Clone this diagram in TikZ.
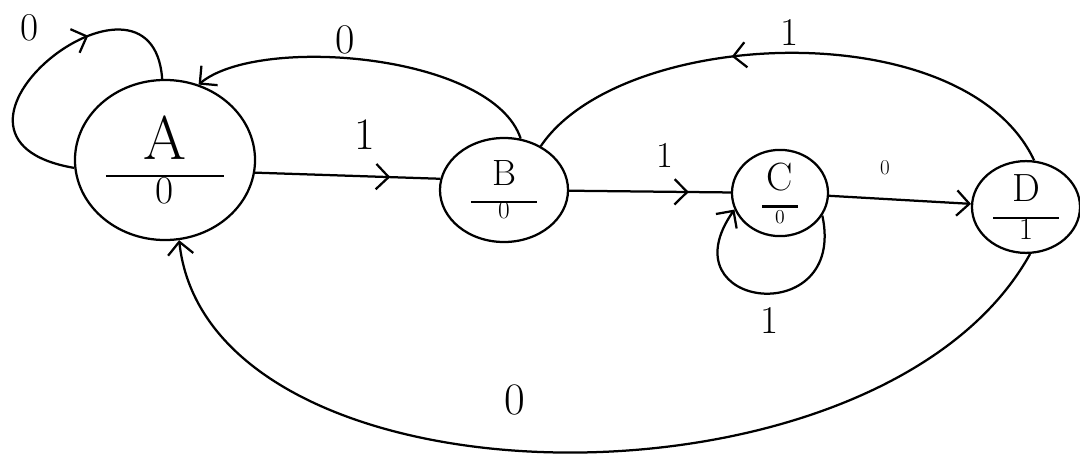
\documentclass[tikz,border=0pt]{standalone}
\usepackage{tikz}
\usetikzlibrary{arrows.meta,shapes.geometric,decorations.markings}

\tikzset{
  state/.style={ellipse,draw,line width=1.6pt,align=center,inner sep=0pt},
  tip/.style={-{Straight Barb[length=9pt,width=18pt,line width=1.6pt]}},
  midarrow/.style={postaction={decorate},decoration={markings,
      mark=at position #1 with {\arrow{Straight Barb[length=9pt,width=18pt,line width=1.6pt]}}}},
  lbl/.style={font=\fontsize{#1}{#1}\selectfont},
  lbl/.default=28
}
% state name over a bar, output below
\newcommand{\moore}[5]{\fontsize{#4}{#4}\selectfont #1\\[0.05em]\rule{#3}{1.6pt}\\[-0.1em]\fontsize{#5}{#5}\selectfont #2}

\begin{document}
\begin{tikzpicture}[x=0.025cm,y=0.025cm,line width=1.6pt]
    \useasboundingbox (0,0) rectangle (1080,456);
    \node[state,minimum width=4.5cm,minimum height=4cm] (A) at (165,296) {\moore{A}{0}{2.95cm}{44}{28}};
    \node[state,minimum width=3.2cm,minimum height=2.6cm] (B) at (504,266) {\moore{B}{0}{1.65cm}{26}{18}};
    \node[state,minimum width=2.4cm,minimum height=1.9cm] (C) at (780,263) {\moore{C}{0}{0.9cm}{28}{14}};
    \node[state,minimum width=2.7cm,minimum height=2cm] (D) at (1026,249) {\moore{D}{1}{1.65cm}{28}{22}};

    \draw[midarrow=0.73] (A.-8) -- (B.170);
    \draw[midarrow=0.74] (B) -- (C);
    \draw[tip] (C) -- (D);
    \draw[midarrow=0.66] (A.185) .. controls +(-175,30) and +(-10,140) .. (A.92);
    \draw[tip] (B.72) .. controls +(-28,85) and +(60,50) .. (A.66);
    \draw[midarrow=0.61] (D.80) .. controls +(-70,149) and +(80,119) .. (B.50);
    \draw[tip] (C.-28) .. controls +(25,-115) and +(-70,-100) .. (C.200);
    \draw[tip] (D.-85) .. controls +(-150,-271) and +(30,-276) .. (A.-80);

    \node[lbl] (l1) at (30,428) {0};
    \node[lbl=30] (l2) at (345,416) {0};
    \node[lbl=32] (l3) at (365,321) {1};
    \node[lbl=26] (l4) at (665,301) {1};
    \node[lbl=15] (l5) at (885,288) {0};
    \node[lbl] (l6) at (790,424) {1};
    \node[lbl] (l7) at (770,136) {1};
    \node[lbl=32] (l8) at (515,56) {0};
\end{tikzpicture}
\end{document}
